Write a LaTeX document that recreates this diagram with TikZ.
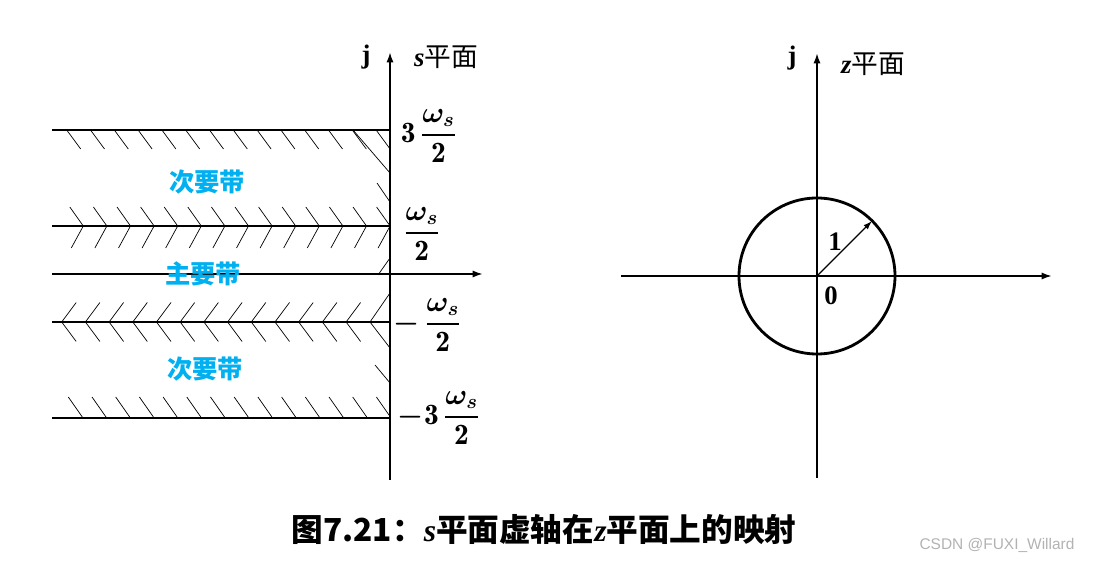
\documentclass[tikz,border=0pt]{standalone}
\usepackage{fontspec}
\usepackage{amsmath}
\usepackage{bm}
\usetikzlibrary{arrows.meta}
\newfontfamily\cjk{Noto Sans CJK SC}
\newfontfamily\wmfont{Liberation Sans}
\newfontfamily\serifb{Liberation Serif}
\definecolor{bandblue}{RGB}{0,176,240}
\newcommand{\wsfrac}{\dfrac{\boldsymbol{\omega}_{\boldsymbol{s}}}{\mathbf{2}}}
\newcommand{\bivar}[1]{{\serifb\bfseries\itshape #1}}

\begin{document}
\begin{tikzpicture}[x=0.025cm,y=-0.025cm,
  axis/.style={line width=1.4pt,-{Latex[length=2.6mm,width=1.8mm]}},
  bound/.style={line width=0.75pt},
  hatch/.style={line width=0.5pt},
  lbl/.style={font=\fontsize{21}{24}\selectfont},
  num/.style={font=\serifb\bfseries\fontsize{19}{22}\selectfont},
  band/.style={font=\cjk\bfseries\fontsize{18}{21}\selectfont,text=bandblue}]
\useasboundingbox (0,0) rectangle (1093,563);

% s plane
\coordinate (sbot) at (390,480);
\coordinate (stop) at (390,52);
\coordinate (sleft) at (52,274);
\coordinate (sright) at (483,274);
\draw[axis] (sbot) -- (stop);
\draw[axis] (sleft) -- (sright);

\draw[bound] (52,130) -- (390,130);
\draw[bound] (52,226) -- (390,226);
\draw[bound] (52,322) -- (390,322);
\draw[bound] (52,418) -- (390,418);

% hatches
\foreach \k in {0,...,13} \draw[hatch] ({66.7+23.8*\k},130) -- ++(14,19);
\foreach \k in {0,...,13} \draw[hatch] ({69.8+23.6*\k},207) -- ++(13.5,19) -- ++(-12,22);
\foreach \k in {0,...,12} \draw[hatch] ({76.2+23.7*\k},302.5) -- ++(-14.5,19.5) -- ++(14.5,19.5);
\draw[hatch] (390,293) -- (370,322) -- (390,348);
\foreach \k in {0,...,13} \draw[hatch] ({68.3+23.7*\k},397) -- ++(14,20);
\draw[hatch] (353,130) -- (390,173);
\draw[hatch] (377,183) -- (390,202);
\draw[hatch] (378,275) -- (390,258);
\draw[hatch] (375,365) -- (390,383);

\node[num] (sj) at (366,57) {j};
\node[num] (sname) at (446,57) {\bivar{s}\cjk\mdseries 平面};
\node[lbl,anchor=west] (l3p) at (396,136) {$\mathbf{3}\,\wsfrac$};
\node[lbl,anchor=west] (l1p) at (399,234) {$\wsfrac$};
\node[lbl,anchor=west] (l1m) at (389,325) {$\boldsymbol{-}\,\wsfrac$};
\node[lbl,anchor=west] (l3m) at (393,418) {$\boldsymbol{-}\mathbf{3}\,\wsfrac$};

\node[band] (sec1) at (207,182) {次要带};
\node[band] (prim) at (203,274) {主要带};
\node[band] (sec2) at (205,369) {次要带};

% z plane
\coordinate (zO) at (817,276);
\coordinate (zbot) at (817,478);
\coordinate (ztop) at (817,53);
\coordinate (zleft) at (621,276);
\coordinate (zright) at (1052,276);
\coordinate (zR) at (872,221);
\draw[axis] (zbot) -- (ztop);
\draw[axis] (zleft) -- (zright);
\draw[line width=2pt] (zO) circle (78);
\draw[line width=1pt,-{Latex[length=2.2mm,width=1.5mm]}] (zO) -- (zR);

\node[num] (zj) at (792,58) {j};
\node[num] (zname) at (873,64) {\bivar{z}\cjk\mdseries 平面};
\node[num] (one) at (835,242) {1};
\node[num] (zero) at (831,296) {0};

\node[font=\cjk\bfseries\fontsize{22.5}{26}\selectfont] (cap) at (544,530) {图7.21：\bivar{s}平面虚轴在\bivar{z}平面上的映射};
\node[font=\wmfont\fontsize{11}{13}\selectfont,text=gray!60] (wm) at (997,545) {CSDN @FUXI\_Willard};
\end{tikzpicture}
\end{document}
